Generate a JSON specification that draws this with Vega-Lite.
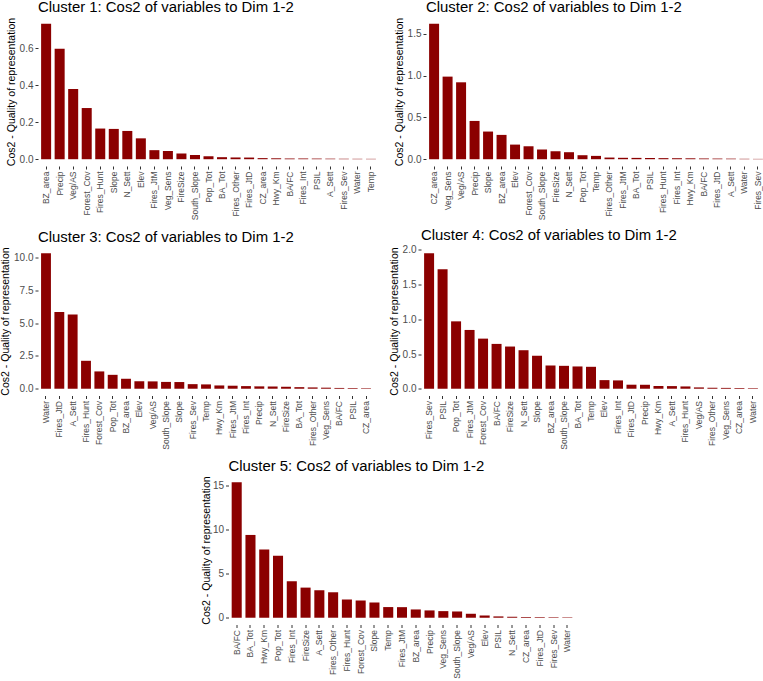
{
  "$schema": "https://vega.github.io/schema/vega-lite/v6.json",
  "background": "white",
  "padding": {"left": 0, "top": 0, "right": 0, "bottom": 0},
  "datasets": {
    "c1": [
      {"variable": "BZ_area", "cos2": 0.733},
      {"variable": "Precip", "cos2": 0.598},
      {"variable": "Veg/AS", "cos2": 0.380},
      {"variable": "Forest_Cov", "cos2": 0.277},
      {"variable": "Fires_Hunt", "cos2": 0.166},
      {"variable": "Slope", "cos2": 0.164},
      {"variable": "N_Sett", "cos2": 0.153},
      {"variable": "Elev", "cos2": 0.113},
      {"variable": "Fires_JtM", "cos2": 0.049},
      {"variable": "Veg_Sens", "cos2": 0.045},
      {"variable": "FireSize", "cos2": 0.031},
      {"variable": "South_Slope", "cos2": 0.023},
      {"variable": "Pop_Tot", "cos2": 0.016},
      {"variable": "BA_Tot", "cos2": 0.011},
      {"variable": "Fires_Other", "cos2": 0.0095},
      {"variable": "Fires_JtD", "cos2": 0.009},
      {"variable": "CZ_area", "cos2": 0.006},
      {"variable": "Hwy_Km", "cos2": 0.005},
      {"variable": "BA/FC", "cos2": 0.0045},
      {"variable": "Fires_Int", "cos2": 0.004},
      {"variable": "PSIL", "cos2": 0.0035},
      {"variable": "A_Sett", "cos2": 0.003},
      {"variable": "Fires_Sev", "cos2": 0.0025},
      {"variable": "Water", "cos2": 0.0022},
      {"variable": "Temp", "cos2": 0.002}
    ],
    "c2": [
      {"variable": "CZ_area", "cos2": 1.62},
      {"variable": "Veg_Sens", "cos2": 0.988},
      {"variable": "Veg/AS", "cos2": 0.92},
      {"variable": "Precip", "cos2": 0.458},
      {"variable": "Slope", "cos2": 0.331},
      {"variable": "BZ_area", "cos2": 0.291},
      {"variable": "Elev", "cos2": 0.175},
      {"variable": "Forest_Cov", "cos2": 0.155},
      {"variable": "South_Slope", "cos2": 0.116},
      {"variable": "FireSize", "cos2": 0.096},
      {"variable": "N_Sett", "cos2": 0.084},
      {"variable": "Pop_Tot", "cos2": 0.048},
      {"variable": "Temp", "cos2": 0.040},
      {"variable": "Fires_Other", "cos2": 0.020},
      {"variable": "Fires_JtM", "cos2": 0.017},
      {"variable": "BA_Tot", "cos2": 0.016},
      {"variable": "PSIL", "cos2": 0.015},
      {"variable": "Fires_Hunt", "cos2": 0.013},
      {"variable": "Fires_Int", "cos2": 0.012},
      {"variable": "Hwy_Km", "cos2": 0.011},
      {"variable": "BA/FC", "cos2": 0.009},
      {"variable": "Fires_JtD", "cos2": 0.008},
      {"variable": "A_Sett", "cos2": 0.007},
      {"variable": "Water", "cos2": 0.005},
      {"variable": "Fires_Sev", "cos2": 0.004}
    ],
    "c3": [
      {"variable": "Water", "cos2": 10.33},
      {"variable": "Fires_JtD", "cos2": 5.85},
      {"variable": "A_Sett", "cos2": 5.67},
      {"variable": "Fires_Hunt", "cos2": 2.13},
      {"variable": "Forest_Cov", "cos2": 1.32},
      {"variable": "Pop_Tot", "cos2": 1.06},
      {"variable": "BZ_area", "cos2": 0.76},
      {"variable": "Elev", "cos2": 0.57},
      {"variable": "Veg/AS", "cos2": 0.56},
      {"variable": "South_Slope", "cos2": 0.52},
      {"variable": "Slope", "cos2": 0.51},
      {"variable": "Fires_Sev", "cos2": 0.35},
      {"variable": "Temp", "cos2": 0.33},
      {"variable": "Hwy_Km", "cos2": 0.25},
      {"variable": "Fires_JtM", "cos2": 0.23},
      {"variable": "Fires_Int", "cos2": 0.20},
      {"variable": "Precip", "cos2": 0.18},
      {"variable": "N_Sett", "cos2": 0.17},
      {"variable": "FireSize", "cos2": 0.15},
      {"variable": "BA_Tot", "cos2": 0.12},
      {"variable": "Fires_Other", "cos2": 0.10},
      {"variable": "Veg_Sens", "cos2": 0.08},
      {"variable": "BA/FC", "cos2": 0.06},
      {"variable": "PSIL", "cos2": 0.05},
      {"variable": "CZ_area", "cos2": 0.04}
    ],
    "c4": [
      {"variable": "Fires_Sev", "cos2": 1.952},
      {"variable": "PSIL", "cos2": 1.722},
      {"variable": "Pop_Tot", "cos2": 0.971},
      {"variable": "Fires_JtM", "cos2": 0.847},
      {"variable": "Forest_Cov", "cos2": 0.722},
      {"variable": "BA/FC", "cos2": 0.646},
      {"variable": "FireSize", "cos2": 0.608},
      {"variable": "N_Sett", "cos2": 0.555},
      {"variable": "Slope", "cos2": 0.474},
      {"variable": "BZ_area", "cos2": 0.335},
      {"variable": "South_Slope", "cos2": 0.330},
      {"variable": "BA_Tot", "cos2": 0.321},
      {"variable": "Temp", "cos2": 0.316},
      {"variable": "Elev", "cos2": 0.124},
      {"variable": "Fires_Int", "cos2": 0.120},
      {"variable": "Fires_JtD", "cos2": 0.058},
      {"variable": "Precip", "cos2": 0.057},
      {"variable": "Hwy_Km", "cos2": 0.039},
      {"variable": "A_Sett", "cos2": 0.038},
      {"variable": "Fires_Hunt", "cos2": 0.033},
      {"variable": "Veg/AS", "cos2": 0.019},
      {"variable": "Fires_Other", "cos2": 0.014},
      {"variable": "Veg_Sens", "cos2": 0.012},
      {"variable": "CZ_area", "cos2": 0.010},
      {"variable": "Water", "cos2": 0.008}
    ],
    "c5": [
      {"variable": "BA/FC", "cos2": 15.38},
      {"variable": "BA_Tot", "cos2": 9.40},
      {"variable": "Hwy_Km", "cos2": 7.74},
      {"variable": "Pop_Tot", "cos2": 7.03},
      {"variable": "Fires_Int", "cos2": 4.14},
      {"variable": "FireSize", "cos2": 3.42},
      {"variable": "A_Sett", "cos2": 3.12},
      {"variable": "Fires_Other", "cos2": 2.89},
      {"variable": "Fires_Hunt", "cos2": 2.07},
      {"variable": "Forest_Cov", "cos2": 1.95},
      {"variable": "Slope", "cos2": 1.73},
      {"variable": "Temp", "cos2": 1.21},
      {"variable": "Fires_JtM", "cos2": 1.20},
      {"variable": "BZ_area", "cos2": 0.94},
      {"variable": "Precip", "cos2": 0.83},
      {"variable": "Veg_Sens", "cos2": 0.75},
      {"variable": "South_Slope", "cos2": 0.71},
      {"variable": "Veg/AS", "cos2": 0.45},
      {"variable": "Elev", "cos2": 0.26},
      {"variable": "PSIL", "cos2": 0.15},
      {"variable": "N_Sett", "cos2": 0.11},
      {"variable": "CZ_area", "cos2": 0.08},
      {"variable": "Fires_JtD", "cos2": 0.07},
      {"variable": "Fires_Sev", "cos2": 0.06},
      {"variable": "Water", "cos2": 0.05}
    ]
  },
  "config": {
    "font": "Liberation Sans",
    "view": {"stroke": null},
    "axis": {
      "grid": false,
      "domain": false,
      "tickColor": "#333333",
      "tickSize": 3,
      "tickWidth": 1,
      "labelColor": "#4D4D4D",
      "labelPadding": 2,
      "titleColor": "#000000",
      "titleFontWeight": "normal",
      "titleFontSize": 10.5
    },
    "axisX": {"labelFontSize": 8.5, "labelAngle": -90, "minExtent": 56, "maxExtent": 56},
    "axisY": {"labelFontSize": 10},
    "title": {"fontSize": 14.9, "fontWeight": "normal", "anchor": "start", "frame": "group", "color": "#000000", "offset": 2},
    "bar": {"color": "#8B0000"}
  },
  "vconcat": [
    {
      "vconcat": [
        {
          "hconcat": [
            {
              "title": "Cluster 1: Cos2 of variables to Dim 1-2",
              "data": {"name": "c1"},
              "width": 341, "height": 149,
              "mark": "bar",
              "encoding": {
                "x": {"field": "variable", "type": "nominal", "sort": null, "title": null,
                      "scale": {"paddingInner": 0.26, "paddingOuter": 0.23}},
                "y": {"field": "cos2", "type": "quantitative", "title": "Cos2 - Quality of representation",
                      "scale": {"domain": [-0.0367, 0.7697], "nice": false, "zero": false},
                      "axis": {"values": [0, 0.2, 0.4, 0.6], "format": ".1f", "minExtent": 18, "maxExtent": 18, "titlePadding": 3.6}},
                "y2": {"datum": 0}
              }
            },
            {
              "title": "Cluster 2: Cos2 of variables to Dim 1-2",
              "data": {"name": "c2"},
              "width": 340, "height": 149,
              "mark": "bar",
              "encoding": {
                "x": {"field": "variable", "type": "nominal", "sort": null, "title": null,
                      "scale": {"paddingInner": 0.26, "paddingOuter": 0.23}},
                "y": {"field": "cos2", "type": "quantitative", "title": "Cos2 - Quality of representation",
                      "scale": {"domain": [-0.081, 1.701], "nice": false, "zero": false},
                      "axis": {"values": [0, 0.5, 1, 1.5], "format": ".1f", "minExtent": 18, "maxExtent": 18, "titlePadding": 3.6}},
                "y2": {"datum": 0}
              }
            }
          ],
          "spacing": 15
        },
        {
          "hconcat": [
            {
              "title": "Cluster 3: Cos2 of variables to Dim 1-2",
              "data": {"name": "c3"},
              "width": 336, "height": 149,
              "mark": "bar",
              "encoding": {
                "x": {"field": "variable", "type": "nominal", "sort": null, "title": null,
                      "scale": {"paddingInner": 0.26, "paddingOuter": 0.23}},
                "y": {"field": "cos2", "type": "quantitative", "title": "Cos2 - Quality of representation",
                      "scale": {"domain": [-0.5165, 10.8465], "nice": false, "zero": false},
                      "axis": {"values": [0, 2.5, 5, 7.5, 10], "format": ".1f", "minExtent": 24, "maxExtent": 24, "titlePadding": 3.3}},
                "y2": {"datum": 0}
              }
            },
            {
              "title": "Cluster 4: Cos2 of variables to Dim 1-2",
              "data": {"name": "c4"},
              "width": 340, "height": 149,
              "mark": "bar",
              "encoding": {
                "x": {"field": "variable", "type": "nominal", "sort": null, "title": null,
                      "scale": {"paddingInner": 0.26, "paddingOuter": 0.23}},
                "y": {"field": "cos2", "type": "quantitative", "title": "Cos2 - Quality of representation",
                      "scale": {"domain": [-0.0976, 2.0496], "nice": false, "zero": false},
                      "axis": {"values": [0, 0.5, 1, 1.5, 2], "format": ".1f", "minExtent": 18, "maxExtent": 18, "titlePadding": 3.6}},
                "y2": {"datum": 0}
              }
            }
          ],
          "spacing": 15
        }
      ],
      "spacing": 5.5
    },
    {
      "title": "Cluster 5: Cos2 of variables to Dim 1-2",
      "data": {"name": "c5"},
      "width": 347, "height": 149,
      "mark": "bar",
      "encoding": {
        "x": {"field": "variable", "type": "nominal", "sort": null, "title": null,
              "scale": {"paddingInner": 0.27, "paddingOuter": 0.23}},
        "y": {"field": "cos2", "type": "quantitative", "title": "Cos2 - Quality of representation",
              "scale": {"domain": [-0.769, 16.149], "nice": false, "zero": false},
              "axis": {"values": [0, 5, 10, 15], "format": "d", "minExtent": 14, "maxExtent": 14, "titlePadding": 2.7}},
        "y2": {"datum": 0}
      }
    }
  ],
  "center": true,
  "spacing": 6.5
}
